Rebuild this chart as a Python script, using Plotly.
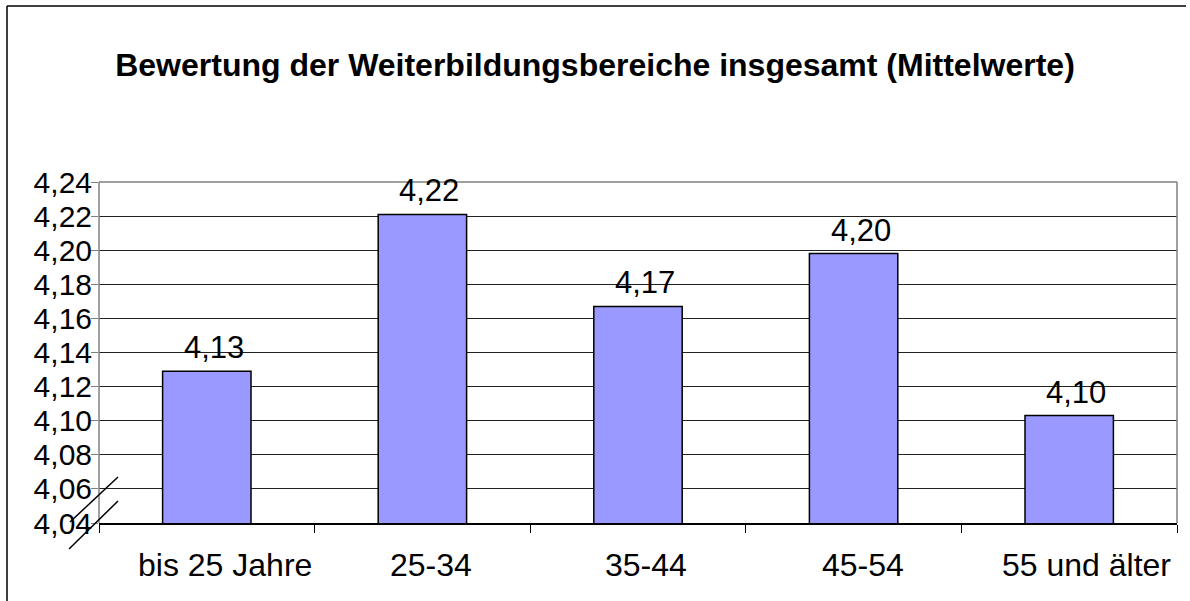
import plotly.graph_objects as go

# age groups and their mean ratings
AGE_GROUPS = ["bis 25 Jahre", "25-34", "35-44", "45-54", "55 und älter"]
MEAN_RATING = [4.129, 4.221, 4.167, 4.198, 4.103]
Y_TICKS = [4.04, 4.06, 4.08, 4.10, 4.12, 4.14, 4.16, 4.18, 4.20, 4.22, 4.24]
# the category labels sit a little right of the bar centres in the original
LABEL_SHIFT = [18, 9, 8, 9, 17]

W, H = 1190, 601
L, R, T, B = 99, 13, 182, 78
FONT = "Arial, Liberation Sans, sans-serif"


def px_x(x):
    return (x - L) / (W - L - R)


def px_y(y):
    return (H - B - y) / (H - T - B)


fig = go.Figure(go.Bar(
    x=AGE_GROUPS,
    y=MEAN_RATING,
    marker=dict(color="#9999FF", line=dict(color="black", width=1.5)),
    cliponaxis=False,
))

annotations = []
for cat, val, shift in zip(AGE_GROUPS, MEAN_RATING, LABEL_SHIFT):
    # value label above bar
    annotations.append(dict(x=cat, y=val, xref="x", yref="y", text=f"{val:.2f}".replace(".", ","),
                            showarrow=False, yanchor="bottom", xshift=7, yshift=4,
                            font=dict(size=31, family=FONT, color="black")))
    # category label under axis
    annotations.append(dict(x=cat, y=0, xref="x", yref="paper", text=cat,
                            showarrow=False, yanchor="top", xshift=shift, yshift=-22,
                            font=dict(size=32, family=FONT, color="black")))

shapes = []
# plot border (gray) on left, top, right
for x0, y0, x1, y1 in [(0, 0, 0, 1), (0, 1, 1, 1), (1, 0, 1, 1)]:
    shapes.append(dict(type="line", xref="paper", yref="paper", x0=x0, y0=y0,
                       x1=x1, y1=y1, line=dict(color="#808080", width=1.5), layer="above"))
# axis break marks
for (ax, ay, bx, by) in [(70, 522, 118, 477), (69, 549, 118, 501)]:
    shapes.append(dict(type="line", xref="paper", yref="paper",
                       x0=px_x(ax), y0=px_y(ay), x1=px_x(bx), y1=px_y(by),
                       line=dict(color="black", width=1.5), layer="above"))
# outer frame (top and left)
shapes.append(dict(type="line", xref="paper", yref="paper", x0=px_x(7), y0=px_y(6),
                   x1=px_x(1186), y1=px_y(6), line=dict(color="black", width=1.5)))
shapes.append(dict(type="line", xref="paper", yref="paper", x0=px_x(7), y0=px_y(6),
                   x1=px_x(7), y1=px_y(610), line=dict(color="black", width=1.5)))

fig.update_layout(
    width=W, height=H,
    margin=dict(l=L, r=R, t=T, b=B, pad=0, autoexpand=False),
    plot_bgcolor="white",
    paper_bgcolor="white",
    separators=",.",
    font=dict(family=FONT, color="black", size=32),
    title=dict(text="<b>Bewertung der Weiterbildungsbereiche insgesamt (Mittelwerte)</b>",
               x=0.5, xanchor="center", y=1 - 65 / H, yanchor="middle",
               yref="container", font=dict(size=32, family=FONT, color="black")),
    bargap=0.59,
    showlegend=False,
    shapes=shapes,
    annotations=annotations,
)
fig.update_xaxes(
    showline=True, linecolor="black", linewidth=1.5,
    ticks="outside", tickson="boundaries", ticklen=8, tickcolor="black",
    showticklabels=False, automargin=False,
    showgrid=False,
)
fig.update_yaxes(
    range=[4.04, 4.24], tickvals=Y_TICKS, tickformat=".2f",
    showline=False, ticks="outside", ticklen=7, tickcolor="#808080",
    tickfont=dict(size=30), automargin=False, ticklabelstandoff=-7,
    showgrid=True, gridcolor="#222222", gridwidth=1,
    zeroline=False,
)

fig.write_html("out.html", config={"displayModeBar": False},
               post_script="document.body.style.margin='0';")
